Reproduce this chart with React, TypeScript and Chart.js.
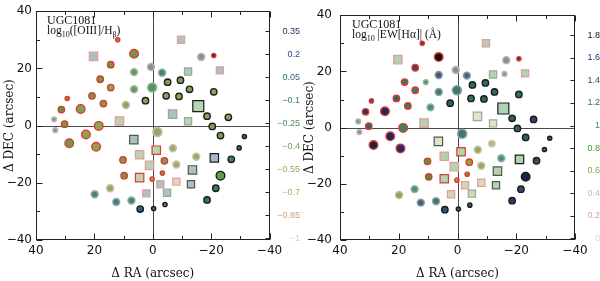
import React, { useEffect, useRef } from "react";
import { Chart, registerables } from "chart.js";
Chart.register(...registerables);

// ---------- data ----------
const galaxy = "UGC1081";
const ra = [12, 20.3, 6.4, 14.4, 18, 14.4, 6.4, 0.6, 6.4, 0.2, 9.2, 2.5, 20.8, 16.9, 24.7, 29.3, 31.3, 33.8, 30.2, 18.5, 11.4, 33.4, 22.9, 28.6, 19.4, 6.5, 4.5, 10.2, 1.1, 9.8, 4.5, 0.2, 14.6, 19.9, 2.2, 12.5, 7.3, 4.3, -0.3, -1.2, -9.7, -16.6, -20.9, -23, -3.2, -12.1, -5.1, -9.5, -12.6, -4.6, -9, -20.9, -15.6, -6.8, -12.1, -18.6, -25.9, -20.4, -1.6, -23.2, -31.4, -6.9, -29.6, -4, -14.9, -21.1, -26.9, -8.1, -13.6, -3.3, -23.2, -2.6, -8.1, -13.1, -21.6, -4.9, -4.2, -18.6, 10.8, -16, -11.7];
const dec = [30, 24.2, 25.1, 21.3, 16.2, 13.3, 18.7, 20.5, 12.7, 13.3, 7.2, 8.7, 10.4, 7.7, 5.8, 9.5, 5.6, 2.2, 0.5, -0.1, 1.6, -1.6, -3.1, -6.2, -7.4, -4.9, -10.2, -12, -13.9, -17.5, -18.2, -18.7, -21.9, -24, -23.7, -26.7, -26.2, -29.2, -29, -8.6, 30, 24, 24.5, 19.3, 18.5, 18.9, 15.2, 15.9, 12.7, 10.4, 10.2, 11.8, 6.8, 4, 1.5, 3.3, 2.9, -0.3, -2.2, -3.5, -3.8, -7.9, -7.8, -12.3, -10.9, -11.3, -11.8, -13.6, -15.5, -16.6, -17.5, -20.5, -19.6, -20.5, -21.9, -23.5, -27.6, -26, 16.2, 19.1, -5.7];
// c = circle, s = square
const markerShape = ["c","s","c","c","c","c","c","c","c","c", "c","c","c","c","c","c","c","c","c","c", "s","c","c","c","c","s","s","c","s","c", "s","c","c","c","s","c","c","c","c","s", "s","c","c","s","c","s","c","c","c","c", "c","c","s","s","s","c","c","c","c","c", "c","c","c","c","c","s","c","c","s","c", "c","s","s","s","c","s","c","c","c","c","c"];
// marker size class (1 small .. 3 large)
const markerClass = [1,2,3,2,2,2,2,2,2,3, 2,2,2,2,3,1,2,1,2,3, 2,1,3,3,3,2,2,2,2,2, 2,1,2,2,1,2,2,2,1,2, 1,2,1,1,2,1,2,2,2,2, 2,2,3,2,1,2,2,2,3,2, 1,2,1,2,2,2,2,2,2,1, 3,1,1,1,2,1,1,2,1,1,2];
// edge class: r red, k black, l light halo, p pink, d dark grey, g grey
const markerEdge = ["r","p","r","r","r","r","l","l","l","l", "l","k","r","r","r","r","r","l","r","r", "p","l","r","r","r","d","p","r","p","r", "r","r","l","l","p","l","l","k","k","r", "p","l","r","p","l","g","k","k","k","k", "k","k","k","g","g","k","k","k","l","k", "k","l","k","r","l","k","k","l","d","r", "k","p","p","d","k","g","k","k","l","l","l"];
// null = measured but undefined (grey), NaN = not shown
const logOiiiHb = [null, 0.05, -0.35, -0.35, -0.35, -0.5, -0.3, null, -0.3, -0.25, -0.5, -0.5, -0.35, -0.4, -0.45, -0.35, -0.3, null, -0.35, -0.5, -0.3, null, -0.5, -0.35, -0.5, 0.0, -0.3, -0.4, -0.3, -0.35, -0.3, -0.6, -0.55, -0.05, 0.0, 0.0, -0.05, 0.1, 0.0, -0.3, -0.05, null, 0.35, 0.0, -0.05, -0.15, -0.45, -0.45, -0.45, -0.5, -0.5, -0.5, -0.3, 0.0, -0.3, -0.5, -0.5, -0.45, -0.55, -0.4, 0.05, -0.65, 0.0, -0.4, -0.6, 0.15, -0.1, -0.65, 0.0, -0.4, -0.35, 0.0, -0.6, 0.0, -0.05, 0.0, -0.3, 0.0, NaN, NaN, NaN];
const logEwHa = [1.45, 0.9, 1.85, 1.4, 1.1, 1.05, 1.45, null, 1.2, 1.2, 1.0, 1.3, 1.2, 1.1, 1.65, 1.35, 1.55, null, 1.2, 1.05, 0.85, null, 1.65, 1.7, 1.6, 0.45, 0.85, 0.75, 0.8, 0.85, 0.85, 0.6, 1.0, 0.6, 0.6, 1.35, 1.2, 1.35, 1.2, 0.85, 0.9, null, 1.5, 0.85, 1.3, 0.8, 1.2, 1.2, 1.2, 1.15, 1.2, 1.15, 0.85, 0.45, 0.45, 1.3, 1.45, 1.25, 1.2, 1.25, 1.25, 0.55, 1.25, 0.6, 1.0, 0.8, 1.35, 0.55, 0.8, 0.7, 1.7, 0.6, 0.55, 0.8, 1.4, 0.6, 1.25, 1.5, 0.95, null, 0.3];

const oiiiTicks = [0.35, 0.2, 0.05, -0.1, -0.25, -0.4, -0.55, -0.7, -0.85, -1];
const oiiiTickLabels = ["0.35", "0.2", "0.05", "\u22120.1", "\u22120.25", "\u22120.4", "\u22120.55", "\u22120.7", "\u22120.85", "\u22121"];
const ewTicks = [1.8, 1.6, 1.4, 1.2, 1, 0.8, 0.6, 0.4, 0.2, 0];
const ewTickLabels = ["1.8", "1.6", "1.4", "1.2", "1", "0.8", "0.6", "0.4", "0.2", "0"];

// colormaps (same order as ticks)
const oiiiColors = ["#2c2c6c", "#2c4a86", "#2e6a7a", "#3a7e68", "#4c9056", "#72a050", "#9ca45c", "#b8a868", "#cc9c78", "#dcc8d8"];
const ewColors = ["#141414", "#1e2e78", "#34496c", "#2c6a68", "#3a8a66", "#44983e", "#8ca444", "#c4c48a", "#d6a88e", "#e6cede"];

// ---------- helpers ----------
type RGB = [number, number, number];
const hex = (h: string): RGB => [parseInt(h.slice(1, 3), 16), parseInt(h.slice(3, 5), 16), parseInt(h.slice(5, 7), 16)];
const mix = (a: RGB, b: RGB, t: number): RGB => [a[0] + (b[0] - a[0]) * t, a[1] + (b[1] - a[1]) * t, a[2] + (b[2] - a[2]) * t];
const css = (c: RGB, a = 1) => `rgba(${Math.round(c[0])},${Math.round(c[1])},${Math.round(c[2])},${a})`;
function cmap(v: number, vals: number[], cols: string[]): RGB {
  const pairs = vals.map((x, i) => [x, hex(cols[i])] as [number, RGB]).sort((a, b) => a[0] - b[0]);
  if (v <= pairs[0][0]) return pairs[0][1];
  if (v >= pairs[pairs.length - 1][0]) return pairs[pairs.length - 1][1];
  for (let j = 0; j < pairs.length - 1; j++) {
    const [x0, c0] = pairs[j];
    const [x1, c1] = pairs[j + 1];
    if (v >= x0 && v <= x1) return mix(c0, c1, (v - x0) / (x1 - x0));
  }
  return pairs[0][1];
}
const WHITE: RGB = [255, 255, 255];
const GREY: RGB = [150, 150, 150];
const edgeColors: Record<string, string> = { r: "#e3392a", k: "#1c1c1c", p: "#e79a9a", d: "#505850", g: "#9aa69a" };
const circleR = [0, 2.1, 3.2, 4.3];
const squareOuter = [0, 7.2, 8.4, 11];
const squareInner = [0, 3.2, 4, 5];
const fmt = (v: number) => (v < 0 ? "\u2212" + Math.abs(v) : String(v));

type PanelCfg = {
  values: (number | null)[];
  ticks: number[];
  tickLabels: string[];
  colors: string[];
  cbMin: number;
  cbMax: number;
  yWidth: number;
  yPad: number;
  cbWidth: number;
  cbPad: number;
  textDx: number;
  line2: [string, boolean][];
};

const panels: PanelCfg[] = [
  {
    values: logOiiiHb, ticks: oiiiTicks, tickLabels: oiiiTickLabels, colors: oiiiColors,
    cbMin: -1.0128, cbMax: 0.4815, yWidth: 36, yPad: 4, cbWidth: 30.5, cbPad: 2, textDx: 11,
    line2: [["log", false], ["10", true], ["([OIII]/H", false], ["\u03b2", true], [")", false]],
  },
  {
    values: logEwHa, ticks: ewTicks, tickLabels: ewTickLabels, colors: ewColors,
    cbMin: -0.0171, cbMax: 1.98, yWidth: 40, yPad: 8, cbWidth: 25, cbPad: 9.5, textDx: 12,
    line2: [["log", false], ["10", true], [" |EW[H\u03b1]| (\u00c5)", false]],
  },
];

function buildConfig(p: PanelCfg): any {
  const circ = { data: [] as any[], r: [] as number[], bg: [] as string[], bc: [] as string[], bw: [] as number[] };
  const so = { data: [] as any[], r: [] as number[], bg: [] as string[], bc: [] as string[] };
  const si = { data: [] as any[], r: [] as number[], bg: [] as string[] };
  for (let i = 0; i < ra.length; i++) {
    const v = p.values[i];
    if (typeof v === "number" && Number.isNaN(v)) continue;
    const base: RGB = v === null ? [138, 138, 138] : cmap(v, p.ticks, p.colors);
    const pt = { x: ra[i], y: dec[i] };
    const cls = markerClass[i];
    const e = markerEdge[i];
    if (markerShape[i] === "c") {
      circ.data.push(pt);
      if (e === "l") {
        circ.r.push(circleR[cls] + 0.2);
        circ.bg.push(css(mix(base, GREY, 0.22)));
        circ.bc.push(css(mix(mix(base, GREY, 0.22), WHITE, 0.35)));
        circ.bw.push(1.6);
      } else {
        circ.r.push(circleR[cls]);
        circ.bg.push(css(base));
        circ.bc.push(edgeColors[e]);
        circ.bw.push(1.4);
      }
    } else {
      so.data.push(pt);
      so.r.push(squareOuter[cls] / 1.4142);
      so.bg.push(css(mix(base, WHITE, 0.58)));
      so.bc.push(edgeColors[e]);
      si.data.push(pt);
      si.r.push(squareInner[cls] / 1.4142);
      si.bg.push(css(base));
    }
  }

  const framePlugin = {
    id: "frame",
    beforeDatasetsDraw(chart: any) {
      const { ctx, chartArea: a, scales } = chart;
      const x = scales.x, y = scales.y, c = scales.c;
      ctx.save();
      ctx.lineWidth = 1;
      ctx.strokeStyle = "#4a4a4a";
      const x0 = Math.round(x.getPixelForValue(0)) + 0.5;
      const y0 = Math.round(y.getPixelForValue(0)) + 0.5;
      ctx.beginPath();
      ctx.moveTo(x0, a.top); ctx.lineTo(x0, a.bottom);
      ctx.moveTo(a.left, y0); ctx.lineTo(a.right, y0);
      ctx.stroke();
      ctx.strokeStyle = "#222";
      const L = Math.round(a.left) + 0.5, R = Math.round(a.right) - 0.5, T = Math.round(a.top) + 0.5, B = Math.round(a.bottom) - 0.5;
      ctx.strokeRect(L, T, R - L, B - T);
      ctx.beginPath();
      x.ticks.forEach((t: any) => {
        const px = Math.round(x.getPixelForValue(t.value)) + 0.5;
        const len = t.value % 20 === 0 ? 6 : 3.5;
        ctx.moveTo(px, B); ctx.lineTo(px, B - len);
        ctx.moveTo(px, T); ctx.lineTo(px, T + len);
      });
      y.ticks.forEach((t: any) => {
        const py = Math.round(y.getPixelForValue(t.value)) + 0.5;
        const len = t.value % 20 === 0 ? 6 : 3.5;
        ctx.moveTo(L, py); ctx.lineTo(L + len, py);
      });
      c.ticks.forEach((t: any) => {
        const py = Math.round(c.getPixelForValue(t.value)) + 0.5;
        ctx.moveTo(R, py); ctx.lineTo(R - 4, py);
      });
      ctx.stroke();
      ctx.restore();
    },
    afterDraw(chart: any) {
      const { ctx, chartArea: a } = chart;
      ctx.save();
      ctx.fillStyle = "#111";
      ctx.textBaseline = "alphabetic";
      ctx.textAlign = "left";
      const x = a.left + p.textDx;
      ctx.font = '12px "Liberation Serif"';
      ctx.fillText(galaxy, x, a.top + 13);
      let cx = x;
      const by = a.top + 22.5;
      p.line2.forEach(([txt, sub]) => {
        ctx.font = sub ? '8px "Liberation Serif"' : '11.5px "Liberation Serif"';
        ctx.fillText(txt, cx, sub ? by + 3 : by);
        cx += ctx.measureText(txt).width;
      });
      ctx.restore();
    },
  };

  return {
    type: "scatter",
    data: {
      datasets: [
        { data: circ.data, pointStyle: "circle", pointRadius: circ.r, pointHoverRadius: circ.r, pointBackgroundColor: circ.bg, pointBorderColor: circ.bc, pointBorderWidth: circ.bw },
        { data: so.data, pointStyle: "rect", pointRadius: so.r, pointHoverRadius: so.r, pointBackgroundColor: so.bg, pointBorderColor: so.bc, pointBorderWidth: 1.2 },
        { data: si.data, pointStyle: "rect", pointRadius: si.r, pointHoverRadius: si.r, pointBackgroundColor: si.bg, pointBorderWidth: 0 },
      ],
    },
    options: {
      animation: false,
      responsive: false,
      maintainAspectRatio: false,
      layout: { padding: { top: 7, left: 0, right: 0, bottom: 0 } },
      plugins: { legend: { display: false }, tooltip: { enabled: false } },
      events: [],
      scales: {
        x: {
          type: "linear", position: "bottom", reverse: true, min: -40, max: 40,
          ticks: { stepSize: 10, autoSkip: false, maxRotation: 0, padding: 4, color: "#111", font: { family: "DejaVu Sans", size: 12 }, callback: (v: number) => (v % 20 === 0 ? fmt(v) : "") },
          grid: { display: false, drawTicks: false },
          border: { display: false },
          title: { display: true, text: "\u0394 RA (arcsec)", color: "#111", font: { family: "DejaVu Serif", size: 12 }, padding: { top: 0, bottom: 0 } },
          afterFit: (s: any) => { s.height = 41; },
        },
        y: {
          type: "linear", position: "left", min: -40, max: 40,
          ticks: { stepSize: 10, autoSkip: false, padding: p.yPad, color: "#111", font: { family: "DejaVu Sans", size: 12 }, callback: (v: number) => (v % 20 === 0 ? fmt(v) : "") },
          grid: { display: false, drawTicks: false },
          border: { display: false },
          title: { display: true, text: "\u0394 DEC (arcsec)", color: "#111", font: { family: "DejaVu Serif", size: 12 }, padding: { top: 3, bottom: 0 } },
          afterFit: (s: any) => { s.width = p.yWidth; },
        },
        c: {
          type: "linear", position: "right", min: p.cbMin, max: p.cbMax,
          afterBuildTicks: (s: any) => { s.ticks = p.ticks.map((v) => ({ value: v })); },
          ticks: {
            autoSkip: false, crossAlign: "far", padding: p.cbPad,
            font: { family: "Liberation Sans", size: 9 },
            color: (ctx: any) => css(cmap(ctx.tick.value, p.ticks, p.colors)),
            callback: (_v: number, i: number) => p.tickLabels[i],
          },
          grid: { display: false, drawTicks: false },
          border: { display: false },
          afterFit: (s: any) => { s.width = p.cbWidth; },
        },
      },
    },
    plugins: [framePlugin],
  };
}

function Panel({ cfg, left }: { cfg: PanelCfg; left: number }) {
  const ref = useRef<HTMLCanvasElement>(null);
  useEffect(() => {
    const chart = new Chart(ref.current as HTMLCanvasElement, buildConfig(cfg));
    return () => chart.destroy();
  }, [cfg]);
  return (
    <canvas ref={ref} width={300} height={281} style={{ position: "absolute", left, top: 0, width: 300, height: 281, display: "block" }} />
  );
}

export default function App() {
  return (
    <div style={{ position: "absolute", left: 0, top: 0, width: 600, height: 281, background: "#fff" }}>
      <Panel cfg={panels[0]} left={0} />
      <Panel cfg={panels[1]} left={300} />
    </div>
  );
}
